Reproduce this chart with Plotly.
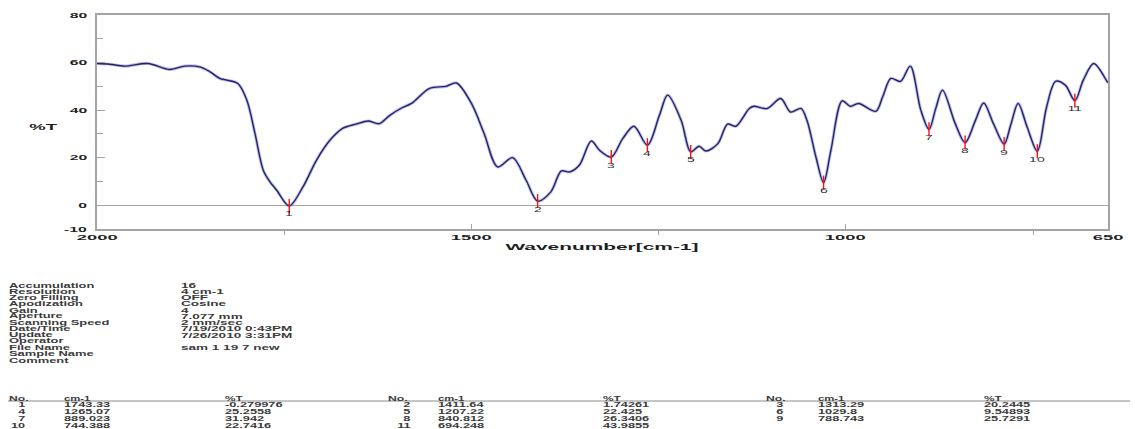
import plotly.graph_objects as go

# IR spectrum: wavenumber (cm-1) vs transmittance (%T)
wavenumber = [2000, 1983, 1963, 1932, 1903, 1883, 1863, 1849, 1836, 1812, 1800, 1789,
              1778, 1769, 1760, 1743.33, 1725, 1707, 1689, 1672, 1654, 1638, 1623, 1609,
              1592, 1580, 1556, 1534, 1520, 1500, 1483, 1465, 1445, 1427, 1411.64, 1394,
              1380, 1369, 1356, 1340, 1329, 1313.29, 1298, 1283, 1265.07, 1249, 1238, 1220,
              1207.22, 1196, 1187, 1171, 1158, 1147, 1129, 1123, 1105, 1087, 1074, 1060,
              1052, 1040, 1029.8, 1020, 1005, 994, 983, 960, 951, 940, 927, 914, 900,
              889.023, 880, 871, 854, 840.812, 827, 816, 803, 788.743, 780, 770, 758,
              744.388, 732, 720, 707, 694.248, 683, 669, 651, 650]
transmittance = [59.6, 59.3, 58.5, 59.6, 57.1, 58.5, 58.2, 56.1, 53.3, 51.2, 44.2, 30.1,
                 14.7, 9.8, 6.3, -0.28, 7.7, 18.9, 27.3, 32.3, 34.1, 35.4, 34.3, 37.8,
                 41.1, 42.8, 49.1, 50.0, 51.4, 42.8, 30.1, 16.1, 20.0, 10.5, 1.74, 5.6,
                 14.4, 14.0, 16.8, 27.0, 23.1, 20.24, 28.0, 33.2, 25.26, 37.8, 46.3, 35.7,
                 22.43, 24.8, 22.8, 25.9, 34.1, 33.2, 40.7, 41.6, 40.7, 44.9, 39.2, 40.7,
                 35.7, 20.3, 9.55, 23.1, 43.9, 41.6, 42.8, 39.5, 45.5, 53.3, 52.1, 58.5, 40.0,
                 31.94, 40.7, 48.4, 34.3, 26.34, 35.7, 43.0, 34.3, 25.73, 33.6, 42.8, 32.9,
                 22.74, 41.3, 52.1, 50.5, 43.99, 52.6, 59.6, 51.9, 51.5]

# Peak table
peak_no = [1, 2, 3, 4, 5, 6, 7, 8, 9, 10, 11]
peak_wn = [1743.33, 1411.64, 1313.29, 1265.07, 1207.22, 1029.8, 889.023, 840.812,
           788.743, 744.388, 694.248]
peak_t = [-0.279976, 1.74261, 20.2445, 25.2558, 22.425, 9.54893, 31.942, 26.3406,
          25.7291, 22.7416, 43.9855]

# Measurement parameters
param_names = ["Accumulation", "Resolution", "Zero Filling", "Apodization", "Gain",
               "Aperture", "Scanning Speed", "Date/Time", "Update", "Operator",
               "File Name", "Sample Name", "Comment"]
param_values = ["16", "4 cm-1", "OFF", "Cosine", "4", "7.077 mm", "2 mm/sec",
                "7/19/2010 0:43PM", "7/26/2010 3:31PM", "", "sam 1 19 7 new", "", ""]

# Axes
y_ticks = [-10, 0, 20, 40, 60, 80]
y_minor = [10, 30, 50, 70]
x_ticks = [2000, 1500, 1000, 650]
x_minor = [1750, 1250, 750]
x_title = "Wavenumber[cm-1]"
y_title = "%T"

# Figure geometry (pixels)
W, H = 1135, 429
PL, PR, PT, PB = 97, 1108, 15, 229


def px(x):
    return (x - PL) / (PR - PL)


def py(y):
    return (PB - y) / (PB - PT)


FONT = "Liberation Sans, Arial, sans-serif"
TXT = "#1e1e1e"
BLOCK = "#3a3a3a"
GRID = "#a4a4a4"

fig = go.Figure()
fig.add_trace(go.Scatter(x=wavenumber, y=transmittance, mode="lines",
                         line=dict(color="rgba(140,140,205,0.55)", width=3.2,
                                   shape="spline", smoothing=0.9),
                         hoverinfo="skip"))
fig.add_trace(go.Scatter(x=wavenumber, y=transmittance, mode="lines",
                         line=dict(color="#23236e", width=1.4, shape="spline", smoothing=0.9)))
fig.add_trace(go.Scatter(x=peak_wn, y=peak_t, mode="markers",
                         marker=dict(symbol="line-ns", size=10,
                                     line=dict(color="#ff1010", width=1.4))))

annotations = []
stretch = []  # (scaleX, transform origin) per annotation


def note(text, x, y, xref="paper", yref="paper", xanchor="left", size=7,
         bold=False, scale=2.0, color=TXT, yshift=0):
    annotations.append(dict(text=text, x=x, y=y, xref=xref, yref=yref,
                            xanchor=xanchor, yanchor="middle", showarrow=False,
                            borderpad=0, yshift=yshift,
                            font=dict(family=FONT, size=size, color=color,
                                      weight="bold" if bold else "normal")))
    origin = {"left": "0% 50%", "right": "100% 50%", "center": "50% 50%"}[xanchor]
    stretch.append((scale, origin))


# Axis tick labels
for v in y_ticks:
    note(str(v), px(88), v, yref="y", xanchor="right", size=7.5, bold=True, scale=2.1)
for v in x_ticks:
    note(str(v), v, py(237), xref="x", xanchor="center", size=7.5, bold=True, scale=2.45)
note(x_title, px(602), py(247), xanchor="center", size=9.5, bold=True, scale=2.2)
note(y_title, px(43), py(126), xanchor="center", size=9.5, bold=True, scale=1.95)

# Peak numbers under each red marker
for n, w, t in zip(peak_no, peak_wn, peak_t):
    note(str(n), w, t, xref="x", yref="y", xanchor="center", size=7, scale=2.0,
         color="#333333", yshift=-8)

# Parameter block
for i, (name, val) in enumerate(zip(param_names, param_values)):
    yy = py(285 + i * 6.25)
    note(name, px(8), yy, size=6.3, bold=True, scale=2.05, color=BLOCK)
    if val:
        note(val, px(180), yy, size=6.3, bold=True, scale=2.15, color=BLOCK)

# Peak table, three column groups
no_right = [27, 412, 785]
no_left = [8, 387, 765]
cm_left = [63, 437, 817]
t_left = [224, 602, 983]
for g in range(3):
    note("No.", px(no_left[g]), py(398), size=6.5, bold=True, scale=1.87, color=BLOCK)
    note("cm-1", px(cm_left[g]), py(398), size=6.5, bold=True, scale=1.74, color=BLOCK)
    note("%T", px(t_left[g]), py(398), size=6.5, bold=True, scale=1.83, color=BLOCK)
for n, w, t in zip(peak_no, peak_wn, peak_t):
    g, r = (n - 1) % 3, (n - 1) // 3
    yy = py(404.5 + r * 7.1)
    note(str(n), px(no_right[g]), yy, xanchor="right", size=6.5, bold=True,
         scale=1.95, color=BLOCK)
    note(f"{w:.6g}", px(cm_left[g]), yy, size=6.5, bold=True, scale=1.97, color=BLOCK)
    note(f"{t:.6g}", px(t_left[g]), yy, size=6.5, bold=True, scale=1.97, color=BLOCK)

shapes = [dict(type="line", xref="paper", yref="paper", x0=px(8), x1=px(1130),
               y0=py(401), y1=py(401), line=dict(color="#8a8a8a", width=1))]

fig.update_layout(
    width=W, height=H,
    margin=dict(l=PL, r=W - PR, t=PT, b=H - PB),
    paper_bgcolor="white", plot_bgcolor="white",
    showlegend=False,
    annotations=annotations,
    shapes=shapes,
    xaxis=dict(range=[2000, 650], showgrid=False, zeroline=False,
               showline=True, mirror=True, linecolor=GRID, linewidth=1.5,
               ticks="inside", tickvals=x_ticks, ticklen=5, tickcolor=GRID,
               showticklabels=False,
               minor=dict(ticks="outside", tickvals=x_minor, ticklen=4,
                          tickcolor=GRID, showgrid=False)),
    yaxis=dict(range=[-10, 80], showgrid=False, zeroline=True,
               zerolinecolor=GRID, zerolinewidth=1,
               showline=True, mirror=True, linecolor=GRID, linewidth=1.5,
               ticks="inside", tickvals=y_ticks, ticklen=8, tickcolor=GRID,
               showticklabels=False,
               minor=dict(ticks="inside", tickvals=y_minor, ticklen=6,
                          tickcolor=GRID, showgrid=False)),
)

# Wide lettering: stretch each text label horizontally about its anchor side
css = "".join(
    '.annotation[data-index="%d"] .annotation-text{transform-box:fill-box;'
    'transform-origin:%s;transform:scaleX(%.3f);}' % (i, o, s)
    for i, (s, o) in enumerate(stretch)
)
post = ("var st=document.createElement('style');st.textContent=%r;"
        "document.head.appendChild(st);" % css)

fig.write_html("out.html", config={"displayModeBar": False}, post_script=post)
